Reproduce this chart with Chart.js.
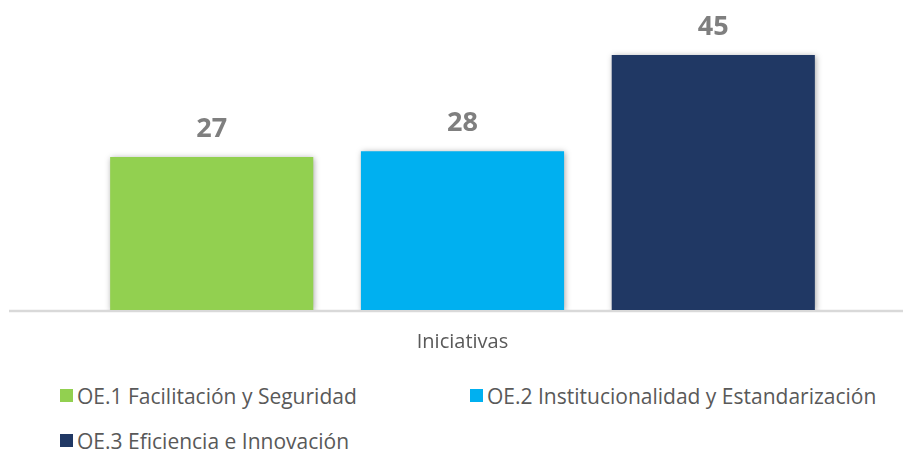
<!DOCTYPE html>
<html>
<head>
<meta charset="utf-8">
<script src="https://cdn.jsdelivr.net/npm/chart.js@4.4.1/dist/chart.umd.min.js"></script>
<style>
  body { margin: 0; background: #fff; width: 903px; height: 449px; overflow: hidden; position: relative; font-family: "Open Sans", sans-serif; }
  #wrap { position: absolute; left: 0; top: 0; width: 903px; height: 354px; }
  #leyenda { position: absolute; left: 60px; top: 373px; display: grid; grid-template-columns: 410px auto; grid-auto-rows: 45px; }
  .item { display: flex; align-items: center; height: 45px; font-size: 21px; color: #595959; white-space: nowrap; }
  .caja { width: 13px; height: 13px; margin-right: 4px; flex: none; }
</style>
</head>
<body>
<div id="wrap"><canvas id="grafico"></canvas></div>
<div id="leyenda"></div>
<script>
// Datos
const categorias = ['Iniciativas'];
const series = ['OE.1 Facilitación y Seguridad', 'OE.2 Institucionalidad y Estandarización', 'OE.3 Eficiencia e Innovación'];
const valores = [27, 28, 45];
const colores = ['#92d050', '#00b0f0', '#203864'];

// Línea base gris a todo el ancho
const lineaBase = {
  id: 'lineaBase',
  beforeDatasetsDraw(chart) {
    const ctx = chart.ctx;
    const y = chart.scales.y.getPixelForValue(0);
    ctx.save();
    ctx.strokeStyle = '#d9d9d9';
    ctx.lineWidth = 2.5;
    ctx.beginPath();
    ctx.moveTo(9, y + 1);
    ctx.lineTo(chart.width, y + 1);
    ctx.stroke();
    ctx.restore();
  }
};

// Sombra suave de las barras
const sombra = {
  id: 'sombra',
  beforeDatasetsDraw(chart) {
    const ctx = chart.ctx;
    ctx.save();
    ctx.shadowColor = 'rgba(0, 0, 0, 0.35)';
    ctx.shadowBlur = 6;
    ctx.shadowOffsetX = 1;
    ctx.shadowOffsetY = 1;
  },
  afterDatasetsDraw(chart) {
    chart.ctx.restore();
  }
};

// Etiquetas de valor encima de cada barra
const etiquetas = {
  id: 'etiquetas',
  afterDatasetsDraw(chart) {
    const ctx = chart.ctx;
    ctx.save();
    ctx.font = 'bold 27px "Open Sans"';
    ctx.fillStyle = '#7f7f7f';
    ctx.textAlign = 'center';
    ctx.textBaseline = 'alphabetic';
    chart.data.datasets.forEach((ds, i) => {
      chart.getDatasetMeta(i).data.forEach((bar, j) => {
        ctx.fillText(ds.data[j], bar.x, bar.y - 20);
      });
    });
    ctx.restore();
  }
};

const chart = new Chart(document.getElementById('grafico'), {
  type: 'bar',
  data: {
    labels: categorias,
    datasets: series.map((nombre, i) => ({
      label: nombre,
      data: [valores[i]],
      backgroundColor: colores[i],
      borderWidth: 0,
      categoryPercentage: 0.854,
      barPercentage: 0.81
    }))
  },
  options: {
    responsive: true,
    maintainAspectRatio: false,
    animation: false,
    layout: { padding: { left: 22, right: 0, top: 0, bottom: 0 } },
    plugins: {
      legend: { display: false },
      tooltip: { enabled: false }
    },
    scales: {
      x: {
        grid: { display: false, drawTicks: false },
        border: { display: false },
        ticks: { display: false },
        title: {
          display: true,
          text: 'Iniciativas',
          color: '#595959',
          font: { family: 'Open Sans', size: 20 },
          padding: { top: 20, bottom: 0 }
        }
      },
      y: {
        display: false,
        min: 0,
        max: 54.7
      }
    }
  },
  plugins: [lineaBase, sombra, etiquetas]
});

// Leyenda en HTML a partir de los datasets
const leyenda = document.getElementById('leyenda');
chart.data.datasets.forEach(ds => {
  const item = document.createElement('div');
  item.className = 'item';
  const caja = document.createElement('span');
  caja.className = 'caja';
  caja.style.background = ds.backgroundColor;
  item.appendChild(caja);
  item.appendChild(document.createTextNode(ds.label));
  leyenda.appendChild(item);
});
</script>
</body>
</html>
